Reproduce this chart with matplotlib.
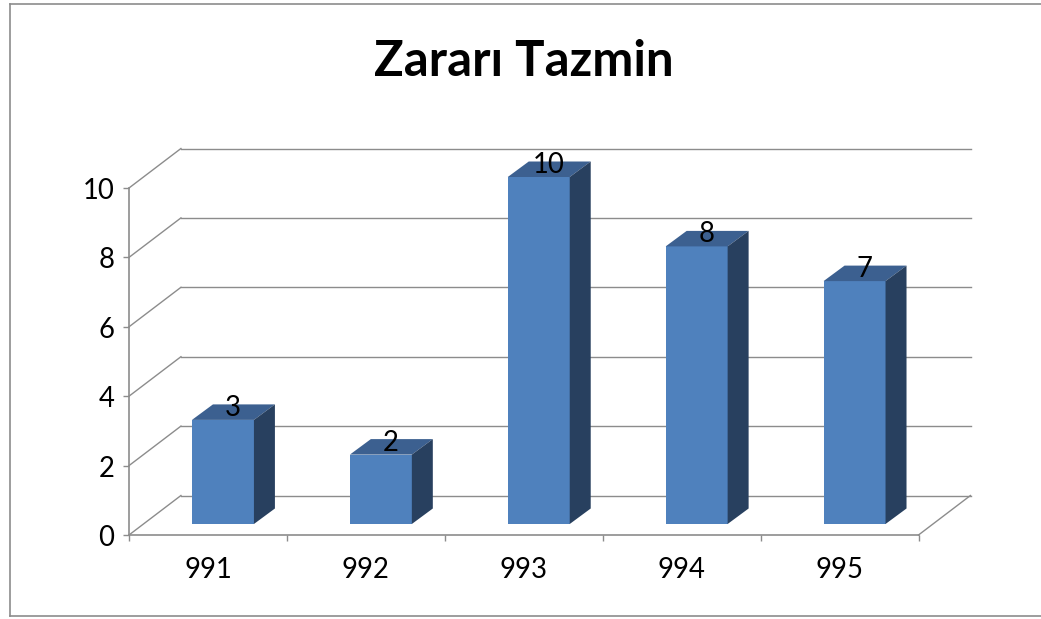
import matplotlib
matplotlib.use("Agg")
import matplotlib.pyplot as plt
from matplotlib.lines import Line2D
from matplotlib.patches import Polygon
from matplotlib.transforms import Affine2D

plt.rcParams['font.family'] = ['Lato', 'DejaVu Sans']

title = "Zararı Tazmin"
categories = ["991", "992", "993", "994", "995"]
values = [3, 2, 10, 8, 7]
yticks = [0, 2, 4, 6, 8, 10]

W, H = 1041, 619
GRAY = "#8c8c8c"
FS = 19.8

fig = plt.figure(figsize=(W / 100, H / 100), dpi=100)
ax = fig.add_axes([129 / W, (H - 535) / H, 789.5 / W, 347 / H])
ax.set_xlim(0, len(categories))
ax.set_ylim(0, 10)
ax.patch.set_visible(False)

# depth of the fake 3d, in pixels
wall = ax.transData + Affine2D().translate(52, 39.5)
base = ax.transData + Affine2D().translate(15, 11)
d = 21 / 158
h = 15.5 / 34.7
bar_w = 62 / 158

# walls and floor
for y in yticks:
    ax.plot([0, 5], [y, y], color=GRAY, lw=1, transform=wall, clip_on=False, zorder=1)
    ax.plot([0, 0.329], [y, y + 39.5 / 34.7], color=GRAY, lw=1, clip_on=False, zorder=1)
ax.plot([5, 5.329], [0, 39.5 / 34.7], color=GRAY, lw=1, clip_on=False, zorder=1)

# bars
for i, v in enumerate(values):
    left = i + 0.5 - bar_w / 2
    right = left + bar_w
    ax.bar(left, v, bar_w, align='edge', color="#4f81bd", transform=base, clip_on=False, zorder=3)
    top = [(left, v), (right, v), (right + d, v + h), (left + d, v + h)]
    side = [(right, 0), (right + d, h), (right + d, v + h), (right, v)]
    ax.add_patch(Polygon(top, closed=True, fc="#3c6090", ec="none", transform=base, clip_on=False, zorder=3))
    ax.add_patch(Polygon(side, closed=True, fc="#28405f", ec="none", transform=base, clip_on=False, zorder=3))
    ax.annotate(str(v), (i + 0.5, v), xycoords=base, xytext=(10, 12), textcoords='offset pixels',
                ha='center', va='center', fontsize=FS, color="black", annotation_clip=False, zorder=5)

for s in ['top', 'right']:
    ax.spines[s].set_visible(False)
for s in ['left', 'bottom']:
    ax.spines[s].set_color(GRAY)
    ax.spines[s].set_linewidth(1.2)
    ax.spines[s].set_zorder(2)

ax.set_yticks(yticks)
ax.set_xticks(range(len(categories) + 1))
ax.set_xticklabels([])
ax.set_xticks([i + 0.5 for i in range(len(categories))], labels=categories, minor=True)
ax.tick_params(axis='x', which='major', length=4.5, color=GRAY, width=1)
ax.tick_params(axis='x', which='minor', length=0, labelsize=FS, pad=16)
ax.tick_params(axis='y', length=4.5, color=GRAY, width=1, labelsize=FS, pad=6)
for lab in ax.get_yticklabels():
    lab.set_verticalalignment('center')
    lab.set_transform(lab.get_transform() + Affine2D().translate(0, -3))

fig.text(524 / W, 1 - 61 / H, title, ha='center', va='center', fontsize=35.4, fontweight='bold', color="black")

# chart frame
fig.add_artist(Line2D([9.5 / W, 9.5 / W], [1 - 3.5 / H, 1 - 616 / H], color=GRAY, lw=1.2))
fig.add_artist(Line2D([9.5 / W, 1], [1 - 3.5 / H, 1 - 3.5 / H], color=GRAY, lw=1.2))
fig.add_artist(Line2D([9.5 / W, 1], [1 - 616 / H, 1 - 616 / H], color=GRAY, lw=1.2))

fig.savefig("out.png", dpi=100)
